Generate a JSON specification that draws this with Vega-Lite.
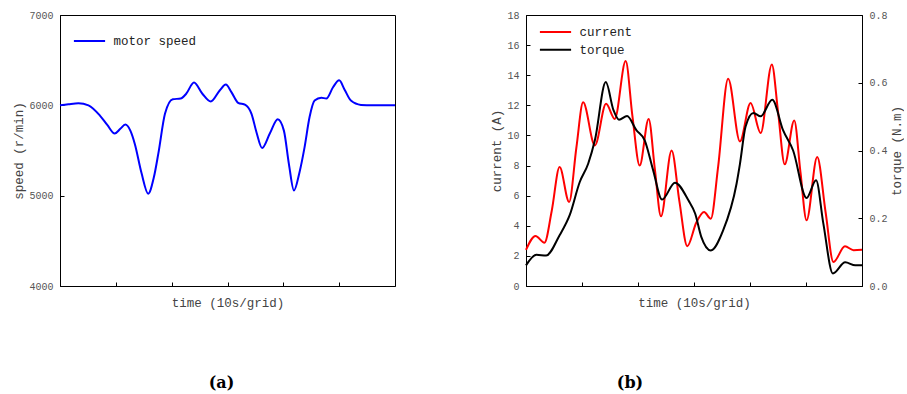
{
  "$schema": "https://vega.github.io/schema/vega-lite/v6.json",
  "padding": {"left": 12, "top": 9, "right": 0, "bottom": 0},
  "background": "white",
  "spacing": 90,
  "resolve": {"scale": {"color": "independent"}, "legend": {"color": "independent"}},
  "config": {
    "view": {"stroke": "black", "strokeWidth": 1},
    "axis": {
      "labelFont": "Liberation Mono", "labelFontSize": 10, "labelColor": "#555",
      "titleFont": "Liberation Mono", "titleFontSize": 12.5, "titleFontWeight": "normal", "titleColor": "#444",
      "domainColor": "black", "tickColor": "black", "grid": false, "tickSize": -4, "labelPadding": 11
    },
    "legend": {
      "labelFont": "Liberation Mono", "labelFontSize": 12.5, "labelColor": "#222",
      "symbolType": "M-2.6,0H2.6", "symbolSize": 144, "symbolStrokeWidth": 2,
      "labelOffset": 17, "rowPadding": 3.8, "padding": 0
    }
  },
  "datasets": {
    "speed": [
      {"t": 0, "speed": 6000}, {"t": 1.5, "speed": 6012}, {"t": 3.3, "speed": 6023}, {"t": 5.1, "speed": 6000},
      {"t": 7.15, "speed": 5887}, {"t": 8.5, "speed": 5780}, {"t": 9.8, "speed": 5688}, {"t": 10.8, "speed": 5740},
      {"t": 11.7, "speed": 5787}, {"t": 12.6, "speed": 5720}, {"t": 13.4, "speed": 5573}, {"t": 14.6, "speed": 5250},
      {"t": 15.8, "speed": 5022}, {"t": 16.8, "speed": 5200}, {"t": 17.6, "speed": 5462}, {"t": 18.8, "speed": 5906},
      {"t": 20.2, "speed": 6068}, {"t": 21.6, "speed": 6075}, {"t": 22.6, "speed": 6128}, {"t": 24.0, "speed": 6252},
      {"t": 25.5, "speed": 6128}, {"t": 27.0, "speed": 6042}, {"t": 28.6, "speed": 6164}, {"t": 29.7, "speed": 6230},
      {"t": 30.7, "speed": 6146}, {"t": 31.9, "speed": 6028}, {"t": 33.2, "speed": 6005}, {"t": 34.3, "speed": 5906},
      {"t": 35.2, "speed": 5700}, {"t": 36.2, "speed": 5528}, {"t": 37.6, "speed": 5690}, {"t": 39.0, "speed": 5845},
      {"t": 40.1, "speed": 5720}, {"t": 41.0, "speed": 5350}, {"t": 41.9, "speed": 5058}, {"t": 42.9, "speed": 5260},
      {"t": 43.8, "speed": 5535}, {"t": 44.7, "speed": 5870}, {"t": 45.6, "speed": 6053}, {"t": 46.8, "speed": 6085},
      {"t": 47.7, "speed": 6075}, {"t": 48.9, "speed": 6200}, {"t": 50.0, "speed": 6277}, {"t": 51.0, "speed": 6170},
      {"t": 52.1, "speed": 6053}, {"t": 53.9, "speed": 6005}, {"t": 56, "speed": 6000}, {"t": 60, "speed": 6000}
    ],
    "current": [
      {"t": 0, "current": 2.4}, {"t": 1.7, "current": 3.32}, {"t": 3.3, "current": 2.88}, {"t": 4.6, "current": 5.0},
      {"t": 6.0, "current": 7.9}, {"t": 7.7, "current": 5.58}, {"t": 9.0, "current": 9.2}, {"t": 10.2, "current": 12.2},
      {"t": 12.3, "current": 9.34}, {"t": 14.3, "current": 12.1}, {"t": 15.85, "current": 11.1}, {"t": 17.8, "current": 14.94},
      {"t": 19.0, "current": 11.3}, {"t": 20.3, "current": 8.0}, {"t": 21.9, "current": 11.1}, {"t": 23.0, "current": 7.8},
      {"t": 24.1, "current": 4.63}, {"t": 26.0, "current": 9.0}, {"t": 27.4, "current": 5.6}, {"t": 28.8, "current": 2.64},
      {"t": 30.4, "current": 4.2}, {"t": 31.8, "current": 4.91}, {"t": 33.0, "current": 4.47}, {"t": 34.3, "current": 7.9},
      {"t": 36.1, "current": 13.77}, {"t": 38.2, "current": 9.6}, {"t": 40.1, "current": 12.15}, {"t": 41.9, "current": 10.16},
      {"t": 43.9, "current": 14.72}, {"t": 45.0, "current": 11.6}, {"t": 46.2, "current": 8.08}, {"t": 47.9, "current": 11.0},
      {"t": 49.0, "current": 7.6}, {"t": 50.1, "current": 4.36}, {"t": 52.0, "current": 8.57}, {"t": 53.5, "current": 4.9},
      {"t": 54.9, "current": 1.59}, {"t": 56.96, "current": 2.64}, {"t": 58.5, "current": 2.38}, {"t": 60, "current": 2.4}
    ],
    "torque": [
      {"t": 0, "torque": 0.061}, {"t": 1.85, "torque": 0.092}, {"t": 3.6, "torque": 0.09}, {"t": 6.0, "torque": 0.15},
      {"t": 7.8, "torque": 0.209}, {"t": 9.6, "torque": 0.307}, {"t": 11.1, "torque": 0.361}, {"t": 12.3, "torque": 0.43},
      {"t": 14.25, "torque": 0.602}, {"t": 15.6, "torque": 0.52}, {"t": 16.6, "torque": 0.491}, {"t": 18.05, "torque": 0.502},
      {"t": 19.7, "torque": 0.46}, {"t": 21.2, "torque": 0.43}, {"t": 22.7, "torque": 0.342}, {"t": 24.3, "torque": 0.255},
      {"t": 26.6, "torque": 0.305}, {"t": 29.0, "torque": 0.253}, {"t": 30.2, "torque": 0.214}, {"t": 31.3, "torque": 0.145},
      {"t": 33.0, "torque": 0.105}, {"t": 35.2, "torque": 0.164}, {"t": 37.6, "torque": 0.302}, {"t": 38.2, "torque": 0.36},
      {"t": 39.2, "torque": 0.47}, {"t": 40.6, "torque": 0.511}, {"t": 41.9, "torque": 0.501}, {"t": 43.97, "torque": 0.55},
      {"t": 45.9, "torque": 0.46}, {"t": 47.7, "torque": 0.4}, {"t": 50.1, "torque": 0.26}, {"t": 51.8, "torque": 0.312},
      {"t": 53.1, "torque": 0.184}, {"t": 54.8, "torque": 0.037}, {"t": 57.0, "torque": 0.07}, {"t": 58.8, "torque": 0.061},
      {"t": 60, "torque": 0.061}
    ]
  },
  "hconcat": [
    {
      "width": 335, "height": 271,
      "title": {"text": "(a)", "orient": "bottom", "anchor": "middle", "frame": "group", "dx": -6, "offset": 66, "font": "DejaVu Serif", "fontSize": 16, "fontWeight": "bold", "color": "black"},
      "data": {"name": "speed"},
      "mark": {"type": "line", "interpolate": "monotone", "strokeWidth": 2},
      "encoding": {
        "x": {"field": "t", "type": "quantitative", "scale": {"domain": [0, 60], "nice": false},
              "axis": {"title": "time (10s/grid)", "values": [10, 20, 30, 40, 50], "labels": false, "titlePadding": 10}},
        "y": {"field": "speed", "type": "quantitative", "scale": {"domain": [4000, 7000], "nice": false},
              "axis": {"title": "speed (r/min)", "values": [4000, 5000, 6000, 7000], "format": "d", "titlePadding": 3}},
        "color": {"datum": "motor speed", "type": "nominal", "scale": {"domain": ["motor speed"], "range": ["#0000ff"]},
                  "legend": {"title": null, "orient": "none", "legendX": 22.5, "legendY": 19}}
      }
    },
    {
      "width": 336, "height": 271,
      "title": {"text": "(b)", "orient": "bottom", "anchor": "middle", "frame": "group", "dx": -64, "offset": 66, "font": "DejaVu Serif", "fontSize": 16, "fontWeight": "bold", "color": "black"},
      "layer": [
        {
          "data": {"name": "current"},
          "mark": {"type": "line", "interpolate": "monotone", "strokeWidth": 2},
          "encoding": {
            "x": {"field": "t", "type": "quantitative", "scale": {"domain": [0, 60], "nice": false},
                  "axis": {"title": "time (10s/grid)", "values": [10, 20, 30, 40, 50], "labels": false, "titlePadding": 10}},
            "y": {"field": "current", "type": "quantitative", "scale": {"domain": [0, 18], "nice": false},
                  "axis": {"title": "current (A)", "values": [0, 2, 4, 6, 8, 10, 12, 14, 16, 18], "titlePadding": 3}},
            "color": {"datum": "current", "type": "nominal", "scale": {"domain": ["current", "torque"], "range": ["#ff0000", "#000000"]},
                      "legend": {"title": null, "orient": "none", "legendX": 22.5, "legendY": 10}}
          }
        },
        {
          "data": {"name": "torque"},
          "mark": {"type": "line", "interpolate": "monotone", "strokeWidth": 2},
          "encoding": {
            "x": {"field": "t", "type": "quantitative"},
            "y": {"field": "torque", "type": "quantitative", "scale": {"domain": [0, 0.8], "nice": false},
                  "axis": {"title": "torque (N.m)", "orient": "right", "values": [0, 0.2, 0.4, 0.6, 0.8], "format": ".1f", "titleAngle": 270, "titleBaseline": "top", "titlePadding": 3}},
            "color": {"datum": "torque", "type": "nominal"}
          }
        }
      ],
      "resolve": {"scale": {"y": "independent"}}
    }
  ]
}
